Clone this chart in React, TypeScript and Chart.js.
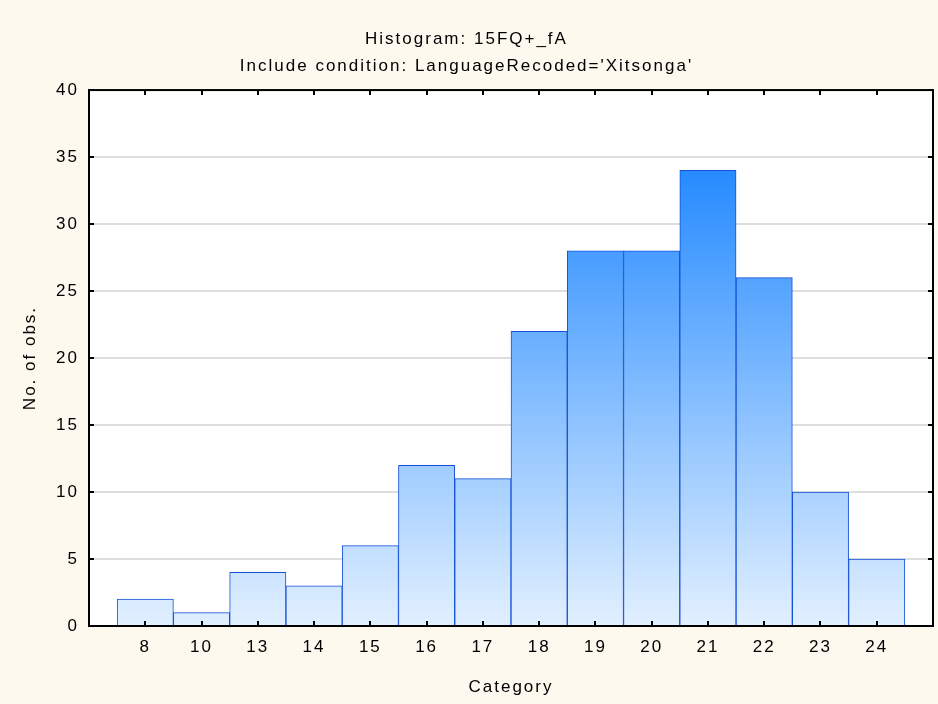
import React, { useEffect, useRef } from "react";
import { Chart, registerables } from "chart.js";

Chart.register(...registerables);

const categories: string[] = ["8", "10", "13", "14", "15", "16", "17", "18", "19", "20", "21", "22", "23", "24"];
const counts: number[] = [2, 1, 4, 3, 6, 12, 11, 22, 28, 28, 34, 26, 10, 5];
const yTicks: number[] = [0, 5, 10, 15, 20, 25, 30, 35, 40];
const titleLines: string[] = ["Histogram: 15FQ+_fA", "Include condition: LanguageRecoded='Xitsonga'"];
const xTitle = "Category";
const yTitle = "No. of obs.";

const FONT = "'Liberation Sans', Arial, sans-serif";
const SPACING = "2px";

const setSpacing = (chart: any) => {
  const ctx = chart.ctx;
  if (ctx && "letterSpacing" in ctx) ctx.letterSpacing = SPACING;
};

const framePlugin = {
  id: "frame",
  beforeUpdate(chart: any) {
    setSpacing(chart);
  },
  beforeLayout(chart: any) {
    setSpacing(chart);
  },
  beforeDraw(chart: any) {
    setSpacing(chart);
    const { ctx, width, height, chartArea } = chart;
    ctx.save();
    ctx.fillStyle = "#fef9ef";
    ctx.fillRect(0, 0, width, height);
    ctx.fillStyle = "#ffffff";
    ctx.fillRect(chartArea.left, chartArea.top, chartArea.right - chartArea.left, chartArea.bottom - chartArea.top);
    ctx.restore();
  },
  afterDatasetsDraw(chart: any) {
    const { ctx, chartArea } = chart;
    const xs = chart.scales.x;
    const ys = chart.scales.y;
    const { left, right, top, bottom } = chartArea;
    ctx.save();
    ctx.strokeStyle = "#000000";
    ctx.lineWidth = 2;
    ctx.beginPath();
    for (let i = 1; i <= categories.length; i++) {
      const px = Math.round(xs.getPixelForValue(i));
      ctx.moveTo(px, bottom);
      ctx.lineTo(px, bottom - 5);
      ctx.moveTo(px, top);
      ctx.lineTo(px, top + 5);
    }
    for (const v of yTicks) {
      const py = Math.round(ys.getPixelForValue(v));
      ctx.moveTo(left, py);
      ctx.lineTo(left + 5, py);
      ctx.moveTo(right, py);
      ctx.lineTo(right - 5, py);
    }
    ctx.stroke();
    ctx.strokeRect(left, top, right - left, bottom - top);
    ctx.restore();
  },
};

export default function App() {
  const ref = useRef<HTMLCanvasElement | null>(null);

  useEffect(() => {
    if (!ref.current) return;
    const labels = ["", ...categories, ""];
    const data = [null, ...counts, null];
    const maxVal = Math.max(...counts);
    const chart = new Chart(ref.current, {
      type: "bar",
      data: {
        labels,
        datasets: [
          {
            data,
            backgroundColor: (c: any) => {
              const ch = c.chart;
              const area = ch.chartArea;
              if (!area) return "#74b4ff";
              const y0 = ch.scales.y.getPixelForValue(0);
              const y1 = ch.scales.y.getPixelForValue(maxVal);
              const g = ch.ctx.createLinearGradient(0, y0, 0, y1);
              g.addColorStop(0, "#e2f0ff");
              g.addColorStop(1, "#268bff");
              return g;
            },
            borderColor: "#1450d8",
            borderWidth: 1,
            barPercentage: 1,
            categoryPercentage: 1,
          },
        ],
      },
      options: {
        responsive: false,
        animation: false,
        layout: { padding: { left: 0, right: 5, top: 0, bottom: 0 } },
        plugins: {
          legend: { display: false },
          tooltip: { enabled: false },
          title: {
            display: true,
            text: titleLines,
            color: "#000000",
            font: { family: FONT, size: 17, weight: "normal", lineHeight: 1.59 },
            padding: { top: 26, bottom: 10 },
          },
        },
        scales: {
          x: {
            type: "category",
            offset: false,
            grid: { display: false, drawTicks: false },
            border: { display: false },
            ticks: {
              color: "#000000",
              font: { family: FONT, size: 17 },
              padding: 11,
              maxRotation: 0,
              autoSkip: false,
            },
            title: {
              display: true,
              text: xTitle,
              color: "#000000",
              font: { family: FONT, size: 17 },
              padding: { top: 0, bottom: 6 },
            },
            afterFit: (s: any) => {
              s.height = 78;
              s.paddingLeft = 0;
              s.paddingRight = 0;
            },
          },
          y: {
            min: 0,
            max: 40,
            grid: { color: "#dedede", lineWidth: 2, drawTicks: false },
            border: { display: false },
            ticks: {
              stepSize: 5,
              color: "#000000",
              font: { family: FONT, size: 17 },
              padding: 10,
            },
            title: {
              display: true,
              text: yTitle,
              color: "#000000",
              font: { family: FONT, size: 17 },
              padding: { top: 20, bottom: 0 },
            },
            afterFit: (s: any) => {
              s.width = 89;
              s.paddingTop = 0;
              s.paddingBottom = 0;
            },
          },
        },
      },
      plugins: [framePlugin],
    });
    return () => chart.destroy();
  }, []);

  return (
    <div style={{ position: "absolute", left: 0, top: 0, width: 938, height: 704 }}>
      <canvas ref={ref} width={938} height={704} style={{ display: "block" }} />
    </div>
  );
}
